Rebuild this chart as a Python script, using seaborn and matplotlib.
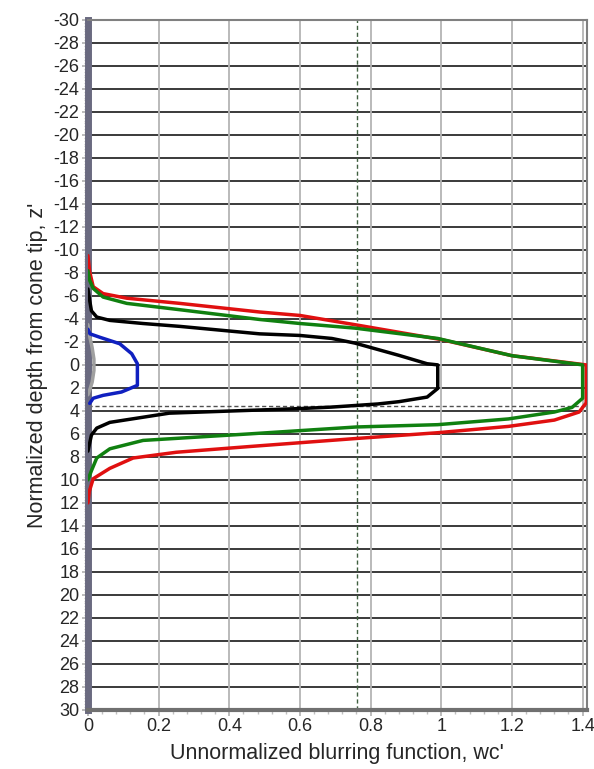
import matplotlib
matplotlib.use("Agg")
import matplotlib.pyplot as plt
import seaborn as sns
from matplotlib.ticker import MultipleLocator

# depth z' (y) and blurring function wc' (x)
red_z = [-9.5, -8.1, -6.8, -6.2, -5.8, -5.35, -4.6, -4.3, -3.5, -2.2, -0.8, 0.0, 3.3, 4.1, 4.8, 5.35, 5.9, 6.4, 7.1, 7.6, 8.1, 9.0, 9.9, 11.0, 12.0]
red_w = [0.0, 0.005, 0.015, 0.043, 0.11, 0.26, 0.486, 0.6, 0.755, 1.0, 1.2, 1.41, 1.41, 1.39, 1.32, 1.19, 0.99, 0.76, 0.458, 0.25, 0.128, 0.062, 0.015, 0.004, 0.0]

green_z = [-8.2, -7.35, -6.65, -5.9, -5.35, -4.8, -3.95, -3.6, -3.2, -2.3, -0.8, 0.0, 2.9, 3.7, 4.1, 4.7, 5.2, 5.4, 6.0, 6.57, 7.3, 8.1, 9.2, 10.0]
green_w = [0.0, 0.005, 0.015, 0.043, 0.11, 0.26, 0.486, 0.6, 0.755, 0.99, 1.2, 1.40, 1.40, 1.37, 1.32, 1.19, 0.99, 0.76, 0.458, 0.156, 0.062, 0.025, 0.01, 0.0]

black_z = [-6.6, -5.6, -4.7, -4.16, -3.87, -3.6, -3.35, -2.7, -2.56, -2.3, -1.9, -0.83, -0.1, 0.0, 2.05, 2.8, 3.2, 3.4, 3.67, 3.8, 4.2, 5.0, 5.5, 6.1, 7.5]
black_w = [0.0, 0.005, 0.01, 0.025, 0.062, 0.156, 0.26, 0.486, 0.6, 0.69, 0.755, 0.88, 0.96, 0.99, 0.99, 0.96, 0.88, 0.82, 0.69, 0.6, 0.23, 0.062, 0.025, 0.01, 0.0]

blue_z = [-3.1, -2.7, -2.4, -1.84, -0.97, -0.1, 1.78, 2.36, 2.65, 2.9, 3.35]
blue_w = [0.0, 0.006, 0.034, 0.09, 0.124, 0.14, 0.14, 0.095, 0.043, 0.015, 0.005]

gray_z = [-3.5, -2.5, -1.5, -0.5, 0.5, 1.5, 2.2, 2.6]
gray_w = [0.0, 0.005, 0.012, 0.017, 0.017, 0.012, 0.005, 0.0]

y_ticks = list(range(-30, 31, 2))
x_ticks = [0, 0.2, 0.4, 0.6, 0.8, 1, 1.2, 1.4]
x_tick_labels = ["0", "0.2", "0.4", "0.6", "0.8", "1", "1.2", "1.4"]

sns.set_style("white")
plt.rcParams["font.family"] = ["Liberation Sans", "DejaVu Sans"]

fig = plt.figure(figsize=(5.94, 7.69), dpi=100)
ax = fig.add_axes([0.148, 0.077, 0.84, 0.897])

# grid
for z in y_ticks:
    ax.axhline(z, color="#3a3a3a", lw=1.4, zorder=1)
for x in x_ticks[1:]:
    ax.axvline(x, color="#b4b4b4", lw=1.3, zorder=1)

ax.axvline(0.762, color="#3f5f3f", lw=1.0, ls=(0, (3, 2)), zorder=2)
ax.axhline(3.6, color="#505050", lw=1.0, ls=(0, (3, 2)), zorder=2)

curves = [
    (gray_w, gray_z, "#a0a0a0"),
    (blue_w, blue_z, "#1020c0"),
    (black_w, black_z, "#000000"),
    (red_w, red_z, "#e01010"),
    (green_w, green_z, "#108010"),
]
for w, z, c in curves:
    sns.lineplot(x=w, y=z, sort=False, estimator=None, color=c, lw=2.5, ax=ax, zorder=3)

ax.set_xlim(0, 1.412)
ax.set_ylim(30, -30)
ax.set_yticks(y_ticks)
ax.set_yticklabels([str(v) for v in y_ticks])
ax.set_xticks(x_ticks)
ax.set_xticklabels(x_tick_labels)
ax.yaxis.set_minor_locator(MultipleLocator(0.25))
ax.xaxis.set_minor_locator(MultipleLocator(0.04))
ax.tick_params(axis="both", which="major", labelsize=13, length=4, width=1.2, color="#b0b0b0", pad=2)
ax.tick_params(axis="both", which="minor", length=3, width=1.0, color="#c0c0c0")
ax.tick_params(axis="y", left=True, which="both")
ax.tick_params(axis="x", bottom=True, which="both")

for side in ["top", "right"]:
    ax.spines[side].set_color("#808080")
    ax.spines[side].set_linewidth(1.5)
ax.spines["bottom"].set_color("#707070")
ax.spines["bottom"].set_linewidth(3)
ax.spines["left"].set_color("#6a6a80")
ax.spines["left"].set_linewidth(5)

ax.set_xlabel("Unnormalized blurring function, wc'", fontsize=15.5, labelpad=6)
ax.set_ylabel("Normalized depth from cone tip, z'", fontsize=15.5, labelpad=4)

fig.savefig("out.png", dpi=100)
